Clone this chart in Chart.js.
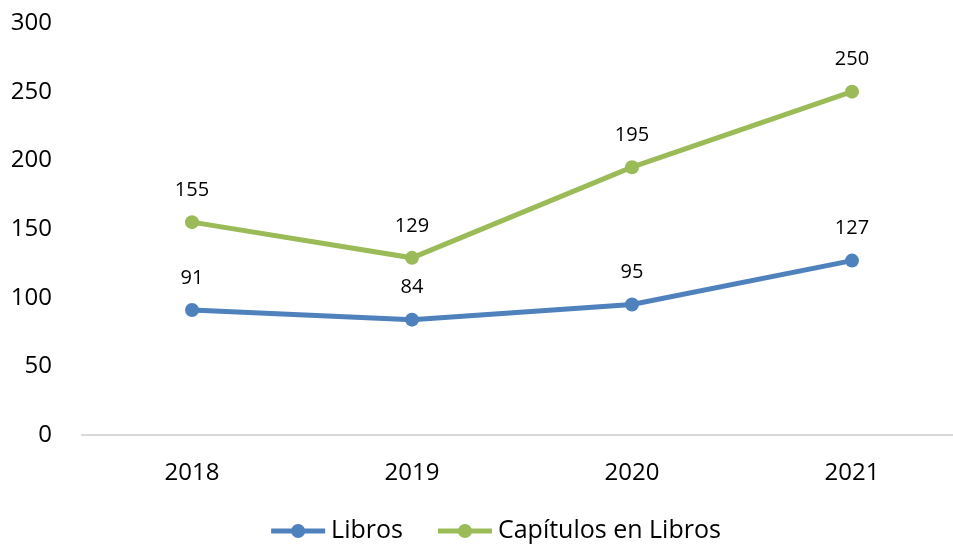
<!DOCTYPE html>
<html>
<head>
<meta charset="utf-8">
<script src="https://cdn.jsdelivr.net/npm/chart.js@4"></script>
<style>
  html, body { margin: 0; padding: 0; background: #fff; overflow: hidden; }
  #wrap { width: 992px; height: 546px; }
</style>
</head>
<body>
<div id="wrap"><canvas id="chart" width="992" height="546"></canvas></div>
<script>
const years = ['2018', '2019', '2020', '2021'];
const libros = [91, 84, 95, 127];
const capitulos = [155, 129, 195, 250];
const yTicks = [0, 50, 100, 150, 200, 250, 300];

const FONT = '"Open Sans", sans-serif';

// etiquetas de valor encima de cada punto
const valueLabels = {
    id: 'valueLabels',
    afterDatasetsDraw(chart) {
        const ctx = chart.ctx;
        ctx.save();
        ctx.font = '20px ' + FONT;
        ctx.fillStyle = '#000';
        ctx.textAlign = 'center';
        ctx.textBaseline = 'middle';
        chart.data.datasets.forEach((ds, i) => {
            chart.getDatasetMeta(i).data.forEach((pt, j) => {
                ctx.fillText(ds.data[j], pt.x, pt.y - 32);
            });
        });
        ctx.restore();
    }
};

// leyenda estilo Excel: línea con punto + texto
const lineLegend = {
    id: 'lineLegend',
    afterDraw(chart) {
        const ctx = chart.ctx;
        const sets = chart.data.datasets;
        const lineW = 54, gapText = 6, gapItem = 35;
        ctx.save();
        ctx.font = '25px ' + FONT;
        ctx.textBaseline = 'middle';
        const widths = sets.map(ds => lineW + gapText + ctx.measureText(ds.label).width);
        const total = widths.reduce((a, b) => a + b, 0) + gapItem * (sets.length - 1);
        let x = chart.width / 2 - total / 2;
        const y = 531;
        sets.forEach((ds, i) => {
            ctx.strokeStyle = ds.borderColor;
            ctx.fillStyle = ds.borderColor;
            ctx.lineWidth = 5;
            ctx.beginPath();
            ctx.moveTo(x, y);
            ctx.lineTo(x + lineW, y);
            ctx.stroke();
            ctx.beginPath();
            ctx.arc(x + lineW / 2, y, 7, 0, Math.PI * 2);
            ctx.fill();
            ctx.fillStyle = '#000';
            ctx.fillText(ds.label, x + lineW + gapText, y);
            x += widths[i] + gapItem;
        });
        ctx.restore();
    }
};

new Chart(document.getElementById('chart'), {
    type: 'line',
    data: {
        labels: years,
        datasets: [{
            label: 'Libros',
            data: libros,
            borderColor: '#4f81bd',
            backgroundColor: '#4f81bd',
            borderWidth: 5,
            pointRadius: 7,
            pointBackgroundColor: '#4f81bd',
            pointBorderWidth: 0
        }, {
            label: 'Capítulos en Libros',
            data: capitulos,
            borderColor: '#9bbb59',
            backgroundColor: '#9bbb59',
            borderWidth: 5,
            pointRadius: 7,
            pointBackgroundColor: '#9bbb59',
            pointBorderWidth: 0
        }]
    },
    options: {
        responsive: false,
        animation: false,
        layout: { padding: { top: 23, right: 30, left: 0, bottom: 0 } },
        plugins: {
            tooltip: { enabled: false },
            legend: { display: false }
        },
        scales: {
            x: {
                offset: true,
                afterFit(scale) { scale.height = 111; },
                grid: { display: false },
                border: { color: '#d9d9d9', width: 2 },
                ticks: { font: { family: FONT, size: 24 }, color: '#000', padding: 16 }
            },
            y: {
                min: 0,
                max: 300,
                afterBuildTicks(scale) { scale.ticks = yTicks.map(v => ({ value: v })); },
                afterFit(scale) {
                    scale.width = 82;
                    scale.paddingTop = 0;
                    scale.paddingBottom = 0;
                },
                grid: { display: false },
                border: { display: false },
                ticks: { font: { family: FONT, size: 24 }, color: '#000', padding: 22 }
            }
        }
    },
    plugins: [valueLabels, lineLegend]
});
</script>
</body>
</html>
